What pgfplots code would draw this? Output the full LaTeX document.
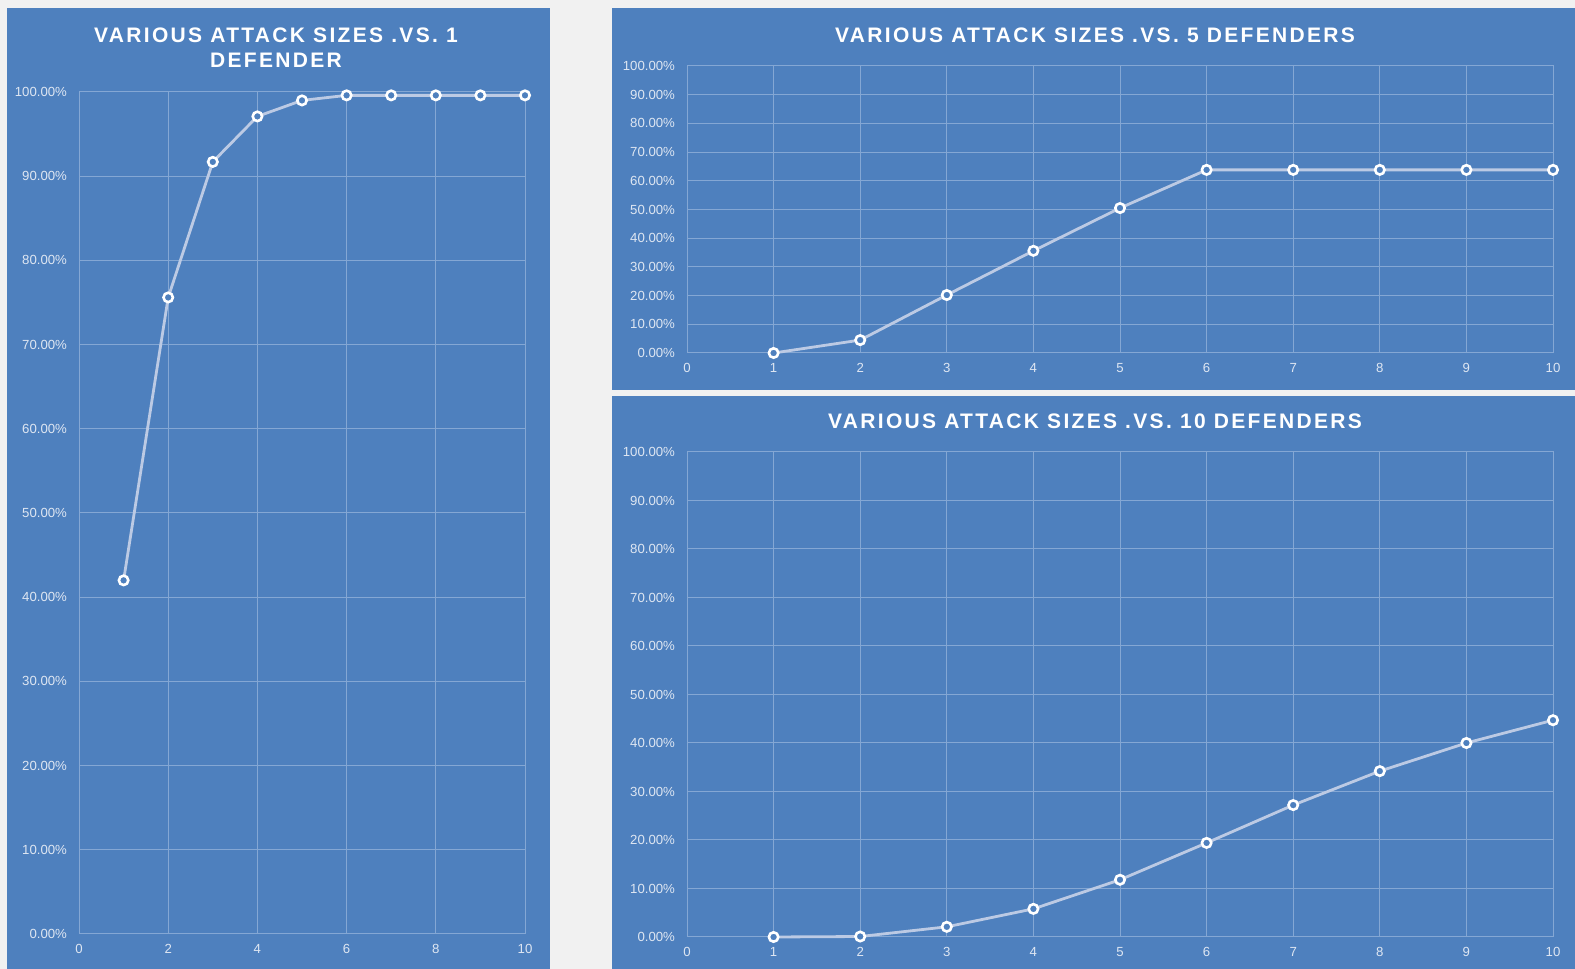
\documentclass[border=0pt]{standalone}
\usepackage{pgfplots}
\pgfplotsset{compat=1.18}
\usepackage{fontspec}
\setmainfont{Liberation Sans}
\newfontfamily\titlefont[LetterSpace=11]{Liberation Sans}

\definecolor{panel}{RGB}{78,128,190}
\definecolor{page}{RGB}{241,241,241}
\definecolor{gridc}{RGB}{132,167,212}
\definecolor{linec}{RGB}{188,202,228}
\definecolor{tickc}{RGB}{222,230,242}

\pgfplotsset{
  panelax/.style={
    scale only axis, anchor=south west, clip=false,
    xmin=0, xmax=10, ymin=0, ymax=100,
    grid=major, grid style={gridc, line width=0.5pt},
    axis line style={gridc, line width=0.5pt},
    major tick length=0pt,
    ytick={0,10,...,100},
    /pgf/number format/assume math mode=true,
    yticklabel={\pgfmathprintnumber[fixed,fixed zerofill,precision=2]{\tick}\%},
    tick label style={font=\fontsize{6.6}{7}\selectfont, text=tickc},
    yticklabel style={xshift=-2.5pt},
    xticklabel style={yshift=-1.5pt},
  },
  dataline/.style={linec, line width=1.4pt, mark=*, mark size=2.35pt,
    mark options={draw=white, fill=panel, line width=1.3pt}},
}

\begin{document}
\begin{tikzpicture}
\useasboundingbox (0pt,0pt) rectangle (787.5pt,484.5pt);
\fill[page] (0pt,0pt) rectangle (787.5pt,484.5pt);
\fill[panel] (3.5pt,0pt) rectangle (275pt,480.5pt);
\fill[panel] (306pt,289.5pt) rectangle (787.5pt,480.5pt);
\fill[panel] (306pt,0pt) rectangle (787.5pt,286.5pt);

% left: 1 defender
\begin{axis}[panelax, at={(39.5pt,17.5pt)}, width=223pt, height=421pt,
  xtick={0,2,...,10}]
\addplot[dataline] coordinates {
  (1,42.0) (2,75.6) (3,91.7) (4,97.1) (5,99.0)
  (6,99.6) (7,99.6) (8,99.6) (9,99.6) (10,99.6)};
\end{axis}

% top right: 5 defenders
\begin{axis}[panelax, at={(343.5pt,308pt)}, width=433pt, height=143.5pt,
  xtick={0,...,10}]
\addplot[dataline] coordinates {
  (1,0.0) (2,4.5) (3,20.2) (4,35.6) (5,50.5)
  (6,63.8) (7,63.8) (8,63.8) (9,63.8) (10,63.8)};
\end{axis}

% bottom right: 10 defenders
\begin{axis}[panelax, at={(343.5pt,16pt)}, width=433pt, height=242.5pt,
  xtick={0,...,10}]
\addplot[dataline] coordinates {
  (1,0.0) (2,0.1) (3,2.1) (4,5.8) (5,11.8)
  (6,19.4) (7,27.2) (8,34.2) (9,40.0) (10,44.7)};
\end{axis}

\node[font=\titlefont\bfseries\fontsize{10.5}{12.5}\selectfont, text=white, align=center]
  at (138pt,460.75pt) {VARIOUS ATTACK SIZES .VS. 1\\DEFENDER};
\node[font=\titlefont\bfseries\fontsize{10.5}{12.5}\selectfont, text=white]
  at (547.5pt,467pt) {VARIOUS ATTACK SIZES .VS. 5 DEFENDERS};
\node[font=\titlefont\bfseries\fontsize{10.5}{12.5}\selectfont, text=white]
  at (547.5pt,274pt) {VARIOUS ATTACK SIZES .VS. 10 DEFENDERS};
\end{tikzpicture}
\end{document}
